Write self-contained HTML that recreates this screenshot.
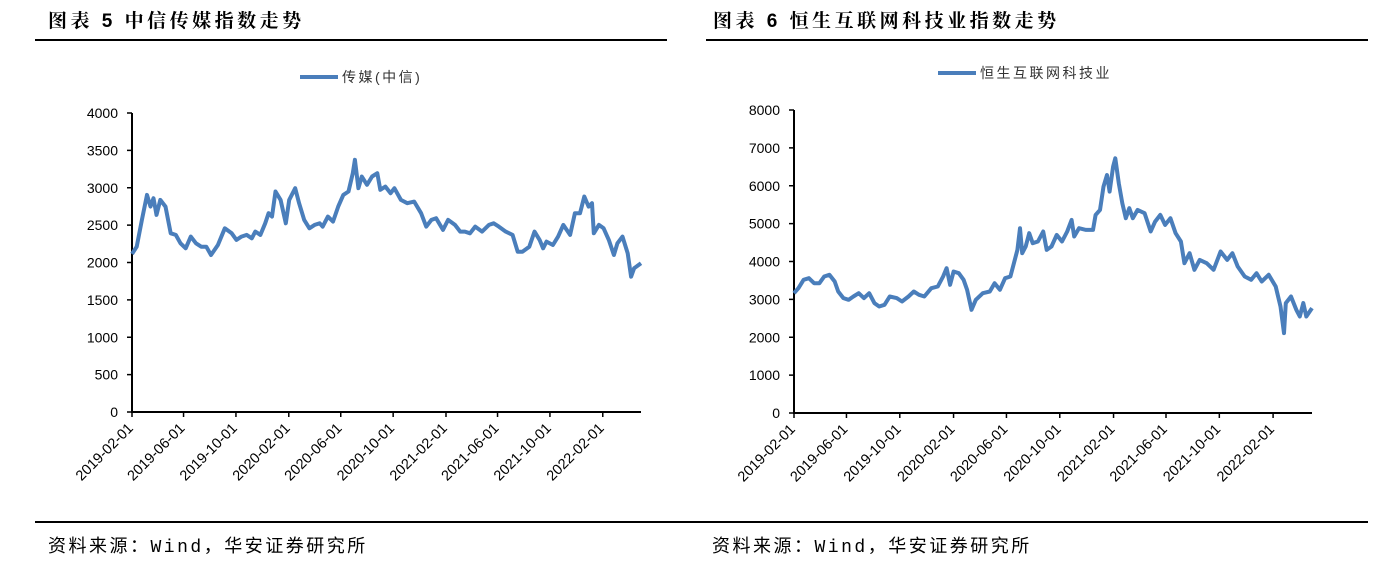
<!DOCTYPE html>
<html><head><meta charset="utf-8">
<style>
body{margin:0;width:1392px;height:567px;background:#fff;overflow:hidden;font-family:"Liberation Sans","Noto Sans CJK SC",sans-serif}
.t{position:absolute;font-weight:bold;font-size:19px;letter-spacing:3.5px;color:#000;font-family:"Liberation Sans","Noto Serif CJK SC",serif}
.src{position:absolute;top:532px;font-size:18px;letter-spacing:2.5px;font-family:"Liberation Mono","Noto Sans CJK SC",monospace;color:#000}
.rule{position:absolute;height:2px;background:#000}
svg{position:absolute;left:0;top:0}
</style></head><body>
<div class="t" style="left:48px;top:6px">图表 5 中信传媒指数走势</div>
<div class="t" style="left:713px;top:6px">图表 6 恒生互联网科技业指数走势</div>
<div class="rule" style="left:35px;top:39px;width:632px"></div>
<div class="rule" style="left:706px;top:39px;width:662px"></div>
<div class="rule" style="left:35px;top:521px;width:1333px"></div>
<div class="src" style="left:48px">资料来源：Wind，华安证券研究所</div>
<div class="src" style="left:712px">资料来源：Wind，华安证券研究所</div>
<svg id="chart" width="1392" height="567"></svg>
<script>
const tickDays=[0,120,242,365,486,608,731,851,973,1096];
const tickLabels=["2019-02-01","2019-06-01","2019-10-01","2020-02-01","2020-06-01","2020-10-01","2021-02-01","2021-06-01","2021-10-01","2022-02-01"];
const leftDays=[0,11,23,35,43,50,57,66,78,90,102,113,125,137,149,161,173,184,200,216,232,243,255,267,279,287,299,310,318,326,334,346,358,366,380,389,401,413,425,437,444,456,468,480,492,504,514,519,527,535,547,559,571,578,590,602,611,626,641,657,673,685,697,708,724,736,752,764,775,787,799,815,831,842,854,870,886,898,909,925,937,949,957,965,980,992,1004,1020,1031,1043,1053,1063,1071,1075,1087,1098,1110,1122,1130,1142,1154,1162,1169,1185];
const leftValues=[2114,2212,2570,2905,2748,2860,2637,2838,2748,2391,2369,2257,2190,2346,2257,2212,2212,2100,2234,2458,2391,2302,2346,2369,2324,2413,2369,2525,2659,2614,2950,2838,2525,2838,2994,2793,2570,2458,2503,2525,2480,2614,2547,2748,2905,2950,3195,3374,2994,3151,3039,3151,3195,2972,3016,2927,2994,2838,2793,2815,2659,2480,2570,2592,2436,2570,2503,2413,2413,2391,2480,2413,2503,2525,2480,2413,2369,2145,2145,2212,2413,2302,2190,2279,2234,2346,2503,2369,2659,2659,2883,2748,2793,2391,2503,2458,2302,2100,2257,2346,2123,1810,1922,1989];
const leftTicks=[0,500,1000,1500,2000,2500,3000,3500,4000];
const rightDays=[0,10,22,34,46,58,69,81,93,101,113,125,136,148,160,172,184,195,207,219,235,247,262,274,286,298,314,329,341,349,357,365,377,388,396,406,416,432,448,459,471,483,495,503,511,517,522,530,538,546,558,570,578,589,601,613,625,635,641,652,668,684,690,700,708,716,722,730,735,743,751,759,767,775,786,802,816,826,838,849,861,873,885,893,905,916,928,944,960,976,991,1003,1015,1031,1046,1058,1070,1086,1102,1113,1121,1125,1137,1149,1157,1165,1172,1185];
const rightValues=[3164,3296,3516,3560,3428,3428,3604,3648,3472,3208,3033,2989,3076,3164,3033,3164,2901,2813,2857,3076,3033,2945,3076,3208,3120,3076,3296,3340,3604,3824,3384,3735,3692,3516,3252,2725,2989,3164,3208,3428,3252,3560,3604,3956,4307,4879,4219,4395,4747,4483,4527,4791,4307,4395,4703,4527,4791,5098,4659,4879,4835,4835,5230,5362,5977,6285,5845,6505,6724,6065,5538,5142,5406,5142,5362,5274,4791,5054,5230,4966,5142,4747,4527,3956,4219,3780,4043,3956,3780,4263,4043,4219,3868,3604,3516,3692,3472,3648,3340,2813,2110,2901,3076,2725,2549,2901,2549,2769];
const rightTicks=[0,1000,2000,3000,4000,5000,6000,7000,8000];
const NS="http://www.w3.org/2000/svg";
const svg=document.getElementById('chart');
function mk(tag,attrs){const e=document.createElementNS(NS,tag);for(const k in attrs)e.setAttribute(k,attrs[k]);svg.appendChild(e);return e;}
function draw(cfg){
  const sx=d=>cfg.x0+d*(cfg.x1-cfg.x0)/1185;
  const sy=v=>cfg.y0-v*(cfg.y0-cfg.yt)/cfg.max;
  cfg.yTicks.forEach(v=>{
    const tk=mk('line',{x1:cfg.x0-5,x2:cfg.x0,y1:sy(v),y2:sy(v),stroke:'#000','stroke-width':1.5});
    
    
    const t=mk('text',{x:cfg.x0-14,y:sy(v)+5,'text-anchor':'end','font-size':14,fill:'#000'});
    t.textContent=v;
    
    
  });
  tickDays.forEach((d,i)=>{
    const x=sx(d);
    const tk=mk('line',{x1:x,x2:x,y1:cfg.y0,y2:cfg.y0+5,stroke:'#000','stroke-width':1.5});
    
    
    const t=mk('text',{x:x+2,y:cfg.y0+17,'text-anchor':'end','font-size':14.5,fill:'#000',transform:`rotate(-45 ${x+2} ${cfg.y0+17})`});
    t.textContent=tickLabels[i];
    
    
  });
  const ax=mk('path',{d:`M${cfg.x0} ${cfg.yt}V${cfg.y0}H${cfg.x1}`,fill:'none',stroke:'#000','stroke-width':2});
  
  
  const pts=cfg.days.map((d,i)=>sx(d).toFixed(1)+','+sy(cfg.vals[i]).toFixed(1)).join(' ');
  const pl=mk('polyline',{points:pts,fill:'none',stroke:'#4a7ebb','stroke-width':4,'stroke-linejoin':'round'});
  
  
  const lg=mk('line',{x1:cfg.lx,x2:cfg.lx+38,y1:cfg.ly,y2:cfg.ly,stroke:'#4a7ebb','stroke-width':4});
  
  
  const lt=mk('text',{x:cfg.lx+42,y:cfg.ly+5,'font-size':14,fill:'#333','letter-spacing':2.5});
  lt.textContent=cfg.label;
  
  
}
draw({name:'media',x0:132,x1:641,y0:412,yt:113,max:4000,yTicks:leftTicks,days:leftDays,vals:leftValues,lx:300,ly:77,label:'传媒(中信)'});
draw({name:'hs-tech',x0:794,x1:1312,y0:413,yt:110,max:8000,yTicks:rightTicks,days:rightDays,vals:rightValues,lx:938,ly:73,label:'恒生互联网科技业'});
</script>
</body></html>
